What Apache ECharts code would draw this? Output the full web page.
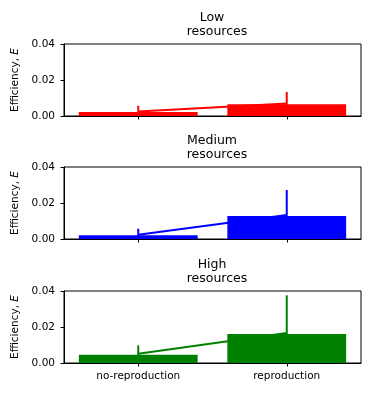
<!DOCTYPE html>
<html>
<head>
<meta charset="utf-8">
<script src="https://cdn.jsdelivr.net/npm/echarts@6/dist/echarts.min.js"></script>
<style>
    html, body { margin: 0; padding: 0; background: #fff; }
    #chart { width: 373px; height: 396px; }
</style>
</head>
<body>
<div id="chart"></div>
<script>
const categories = ['no-reproduction', 'reproduction']
const panelNames = ['Low', 'Medium', 'High']
const panelColors = ['#ff0000', '#0000ff', '#008000']

// bar heights, mean line, error bar ends, per resource level
const lowBars = [0.0022, 0.0065]
const lowMeans = [0.0025, 0.0070]
const lowErrLow = [0.0000, 0.0007]
const lowErrHigh = [0.0057, 0.0133]

const mediumBars = [0.0021, 0.0128]
const mediumMeans = [0.0024, 0.0133]
const mediumErrLow = [0.0000, 0.0000]
const mediumErrHigh = [0.0057, 0.0272]

const highBars = [0.0046, 0.0161]
const highMeans = [0.0051, 0.0167]
const highErrLow = [0.0004, 0.0000]
const highErrHigh = [0.0098, 0.0376]

const yTicks = [0, 0.02, 0.04]

const panels = [
    {bars: lowBars, means: lowMeans, errLow: lowErrLow, errHigh: lowErrHigh},
    {bars: mediumBars, means: mediumMeans, errLow: mediumErrLow, errHigh: mediumErrHigh},
    {bars: highBars, means: highMeans, errLow: highErrLow, errHigh: highErrHigh},
]

const fontFamily = 'DejaVu Sans'
const gridTops = [44, 167, 291]
const gridHeight = 72

let chartDom = document.getElementById('chart')
let myChart = echarts.init(chartDom, null, {renderer: 'canvas'})

let grids = []
let xAxes = []
let yAxes = []
let series = []
let titles = []

panels.forEach((p, i) => {
    const color = panelColors[i]
    grids.push({
        left: 64, right: 12, top: gridTops[i], height: gridHeight,
        show: true, borderColor: '#000', borderWidth: 1, backgroundColor: 'transparent'
    })
    titles.push({
        text: panelNames[i], left: 212, top: gridTops[i] - 33, textAlign: 'center', padding: 0,
        textStyle: {fontFamily: fontFamily, fontSize: 12.5, fontWeight: 'normal', color: '#000'}
    })
    titles.push({
        text: 'resources', left: 217, top: gridTops[i] - 19, textAlign: 'center', padding: 0,
        textStyle: {fontFamily: fontFamily, fontSize: 12.5, fontWeight: 'normal', color: '#000'}
    })
    xAxes.push({
        type: 'category', gridIndex: i, data: categories,
        axisLine: {lineStyle: {color: '#000', width: 1}},
        axisTick: {show: true, alignWithLabel: true, length: 3.5, lineStyle: {color: '#000'}},
        axisLabel: {show: i === 2, color: '#000', fontFamily: fontFamily, fontSize: 10.5, margin: 8},
        splitLine: {show: false}
    })
    yAxes.push({
        type: 'value', gridIndex: i, min: yTicks[0], max: yTicks[yTicks.length - 1], interval: 0.02,
        name: 'Efficiency, {i|E}', nameLocation: 'middle', nameRotate: 90, nameGap: 42,
        nameTextStyle: {
            fontFamily: fontFamily, fontSize: 10.5, color: '#000',
            rich: {i: {fontStyle: 'italic', fontFamily: fontFamily, fontSize: 10.5, color: '#000'}}
        },
        axisLine: {show: true, lineStyle: {color: '#000', width: 1}},
        axisTick: {show: true, length: 3.5, lineStyle: {color: '#000'}},
        axisLabel: {color: '#000', fontFamily: fontFamily, fontSize: 10.5, margin: 9,
            formatter: (v) => v.toFixed(2)},
        splitLine: {show: false}
    })
    series.push({
        type: 'bar', xAxisIndex: i, yAxisIndex: i, data: p.bars,
        barWidth: '80%', itemStyle: {color: color}, z: 2, silent: true
    })
    series.push({
        type: 'line', xAxisIndex: i, yAxisIndex: i, data: p.means,
        showSymbol: false, lineStyle: {color: color, width: 2}, z: 3, silent: true
    })
    series.push({
        type: 'custom', xAxisIndex: i, yAxisIndex: i, z: 4, silent: true,
        data: categories.map((c, k) => [k, p.errLow[k], p.errHigh[k]]),
        renderItem: function (params, api) {
            let a = api.coord([api.value(0), api.value(1)])
            let b = api.coord([api.value(0), api.value(2)])
            return {
                type: 'line',
                shape: {x1: a[0], y1: a[1], x2: b[0], y2: b[1]},
                style: {stroke: color, lineWidth: 2}
            }
        }
    })
})

myChart.setOption({
    animation: false,
    title: titles,
    grid: grids,
    xAxis: xAxes,
    yAxis: yAxes,
    series: series
})
</script>
</body>
</html>
